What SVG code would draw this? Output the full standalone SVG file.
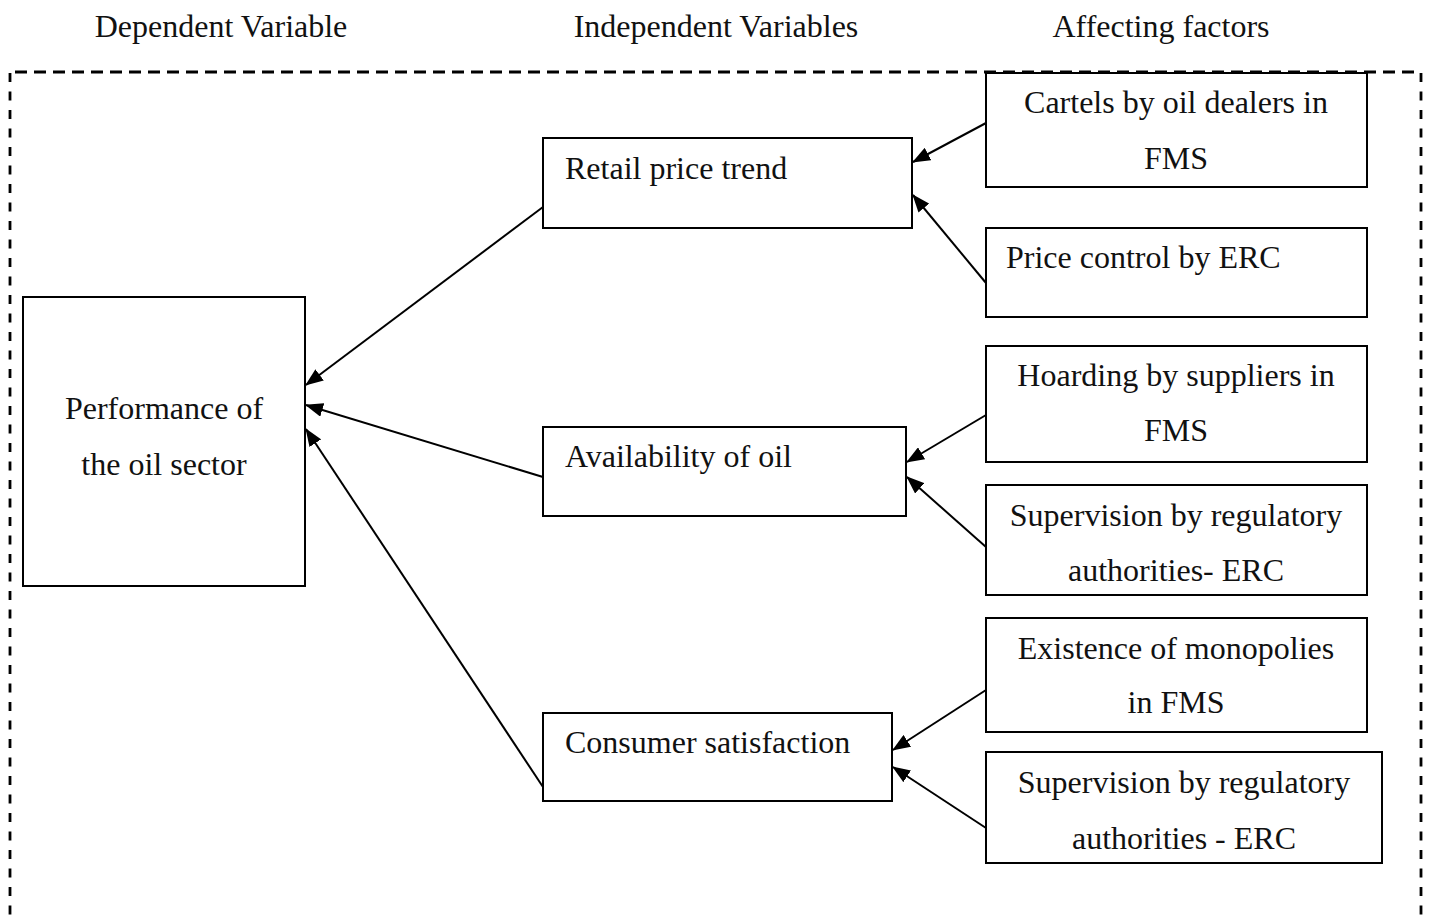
<svg xmlns="http://www.w3.org/2000/svg" width="1430" height="922" viewBox="0 0 1430 922">
<style>
text{font-family:"Liberation Serif","Times New Roman",serif;fill:#111;}
.h{font-size:32px;}
.t{font-size:32px;}
.c{text-anchor:middle;}
.box{fill:#fff;stroke:#000;stroke-width:2;}
.edge{stroke:#000;stroke-width:2;fill:none;marker-end:url(#ah);}
.dash{stroke:#000;stroke-width:2.8;fill:none;}
</style>
<defs>
<marker id="ah" viewBox="0 0 18 14" refX="17" refY="7" markerWidth="18" markerHeight="14" markerUnits="userSpaceOnUse" orient="auto">
<path d="M0,0 L18,7 L0,14 z" fill="#000"/>
</marker>
</defs>
<rect width="1430" height="922" fill="#fff"/>
<g id="headers">
<text class="h c" x="221" y="37">Dependent Variable</text>
<text class="h c" x="716" y="37">Independent Variables</text>
<text class="h c" x="1161" y="37">Affecting factors</text>
</g>
<g id="frame">
<line class="dash" x1="15" y1="72" x2="1421" y2="72" stroke-dasharray="12 7"/>
<line class="dash" x1="10" y1="73" x2="10" y2="922" stroke-dasharray="9 9.5"/>
<line class="dash" x1="1421" y1="73" x2="1421" y2="922" stroke-dasharray="9 9.5"/>
</g>
<g id="n-performance">
<rect class="box" x="23" y="297" width="282" height="289"/>
<text class="t c" x="164" y="419">Performance of</text>
<text class="t c" x="164" y="475">the oil sector</text>
</g>
<g id="n-retail">
<rect class="box" x="543" y="138" width="369" height="90"/>
<text class="t" x="565" y="179">Retail price trend</text>
</g>
<g id="n-availability">
<rect class="box" x="543" y="427" width="363" height="89"/>
<text class="t" x="565" y="467">Availability of oil</text>
</g>
<g id="n-consumer">
<rect class="box" x="543" y="713" width="349" height="88"/>
<text class="t" x="565" y="753">Consumer satisfaction</text>
</g>
<g id="n-cartels">
<rect class="box" x="986" y="73" width="381" height="114"/>
<text class="t c" x="1176" y="113">Cartels by oil dealers in</text>
<text class="t c" x="1176" y="169">FMS</text>
</g>
<g id="n-pricecontrol">
<rect class="box" x="986" y="228" width="381" height="89"/>
<text class="t" x="1006" y="268">Price control by ERC</text>
</g>
<g id="n-hoarding">
<rect class="box" x="986" y="346" width="381" height="116"/>
<text class="t c" x="1176" y="386">Hoarding by suppliers in</text>
<text class="t c" x="1176" y="441">FMS</text>
</g>
<g id="n-supervision1">
<rect class="box" x="986" y="485" width="381" height="110"/>
<text class="t c" x="1176" y="526">Supervision by regulatory</text>
<text class="t c" x="1176" y="581">authorities- ERC</text>
</g>
<g id="n-existence">
<rect class="box" x="986" y="618" width="381" height="114"/>
<text class="t c" x="1176" y="659">Existence of monopolies</text>
<text class="t c" x="1176" y="713">in FMS</text>
</g>
<g id="n-supervision2">
<rect class="box" x="986" y="752" width="396" height="111"/>
<text class="t c" x="1184" y="793">Supervision by regulatory</text>
<text class="t c" x="1184" y="849">authorities - ERC</text>
</g>
<g id="connectors">
<line class="edge" x1="543" y1="207" x2="306" y2="385"/>
<line class="edge" x1="543" y1="477" x2="306" y2="405"/>
<line class="edge" x1="543" y1="787" x2="306" y2="429"/>
<line class="edge" x1="986" y1="123" x2="913" y2="162"/>
<line class="edge" x1="986" y1="283" x2="913" y2="195"/>
<line class="edge" x1="986" y1="415" x2="907" y2="462"/>
<line class="edge" x1="986" y1="547" x2="907" y2="477"/>
<line class="edge" x1="986" y1="690" x2="893" y2="750"/>
<line class="edge" x1="986" y1="828" x2="893" y2="767"/>
</g>
</svg>
